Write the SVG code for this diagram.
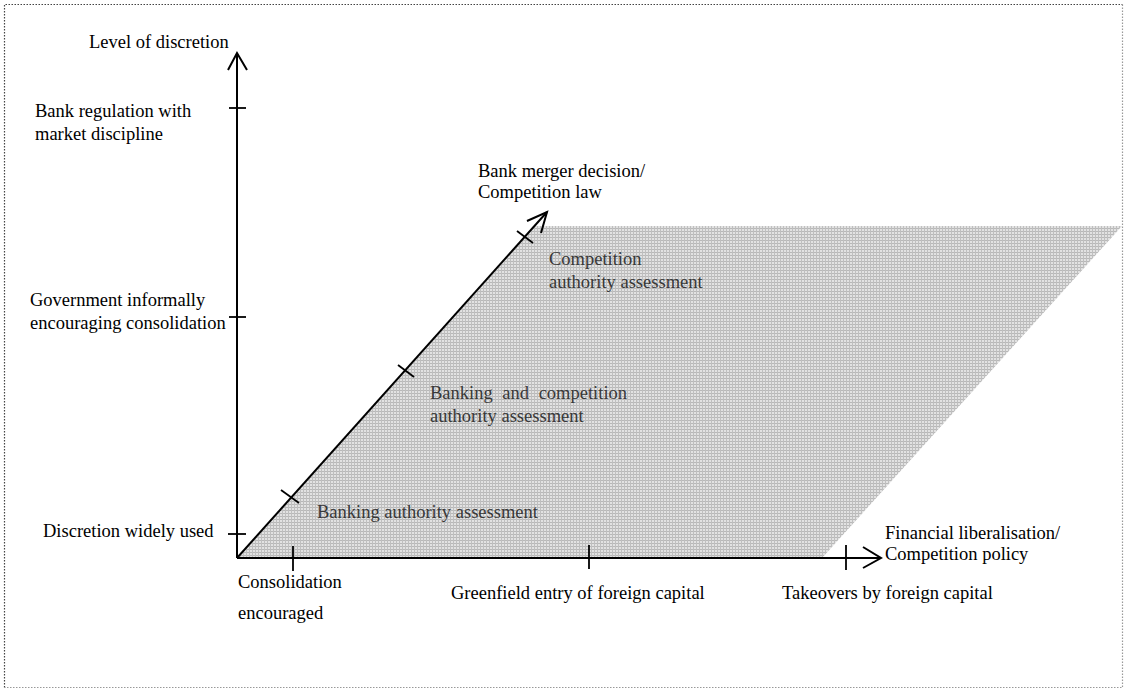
<svg xmlns="http://www.w3.org/2000/svg" width="1125" height="689" viewBox="0 0 1125 689">
<style>
text{font-family:"Liberation Serif","Times New Roman",serif;font-size:18.5px;fill:#000}
.g{fill:#383838}
.ax{stroke:#000;stroke-width:2;fill:none}
.tk{stroke:#000;stroke-width:1.8;fill:none}
.bd{stroke-width:1.2;stroke-dasharray:1.5,1.5;fill:none}
</style>
<defs>
<pattern id="dots" width="3" height="3" patternUnits="userSpaceOnUse">
<rect width="3" height="3" fill="#e2e2e2"/>
<rect width="3" height="1" fill="#b8b8b8"/>
<rect width="1" height="3" fill="#bfbfbf"/>
</pattern>
</defs>
<rect x="0" y="0" width="1125" height="689" fill="#fff"/>
<g id="border">
<polyline class="bd" stroke="#444" points="4.5,687.5 4.5,4.5 1122.5,4.5"/>
<polyline class="bd" stroke="#999" points="1122.5,4.5 1122.5,687.5 4.5,687.5"/>
</g>
<g id="shade">
<polygon points="237,558 535,226 1122,226 822,558" fill="url(#dots)"/>
</g>
<g id="connectors">
<line class="ax" x1="237" y1="558" x2="237" y2="53"/>
<polyline class="ax" points="228,70 237,53 247,70"/>
<line class="ax" x1="237" y1="558" x2="880" y2="558"/>
<polyline class="ax" points="863,547 881,558 863,568"/>
<line class="ax" x1="237" y1="558" x2="547" y2="212"/>
<polyline class="ax" points="527,221 547,212 541,233"/>
</g>
<g id="ticks">
<line class="tk" x1="229" y1="108" x2="246" y2="108"/>
<line class="tk" x1="229" y1="317" x2="246" y2="317"/>
<line class="tk" x1="228" y1="534" x2="246" y2="534"/>
<line class="tk" x1="293" y1="546" x2="293" y2="571"/>
<line class="tk" x1="589" y1="545" x2="589" y2="569"/>
<line class="tk" x1="846" y1="545" x2="846" y2="570"/>
<line class="tk" x1="281" y1="490" x2="299" y2="503"/>
<line class="tk" x1="398" y1="365" x2="414" y2="377"/>
<line class="tk" x1="517" y1="231" x2="533" y2="243"/>
</g>
<g id="y-labels">
<text x="89" y="48">Level of discretion</text>
<text x="35" y="117">Bank regulation with</text>
<text x="35" y="140">market discipline</text>
<text x="30" y="306">Government informally</text>
<text x="30" y="329">encouraging consolidation</text>
<text x="43" y="537">Discretion widely used</text>
</g>
<g id="diag-labels">
<text x="478" y="177">Bank merger decision/</text>
<text x="478" y="198">Competition law</text>
<text class="g" x="549" y="265">Competition</text>
<text class="g" x="549" y="288">authority assessment</text>
<text class="g" x="430" y="399" word-spacing="5">Banking and competition</text>
<text class="g" x="430" y="422">authority assessment</text>
<text class="g" x="317" y="518">Banking authority assessment</text>
</g>
<g id="x-labels">
<text x="238" y="588">Consolidation</text>
<text x="238" y="619">encouraged</text>
<text x="451" y="599">Greenfield entry of foreign capital</text>
<text x="782" y="599">Takeovers by foreign capital</text>
<text x="885" y="539">Financial liberalisation/</text>
<text x="885" y="560">Competition policy</text>
</g>
</svg>
